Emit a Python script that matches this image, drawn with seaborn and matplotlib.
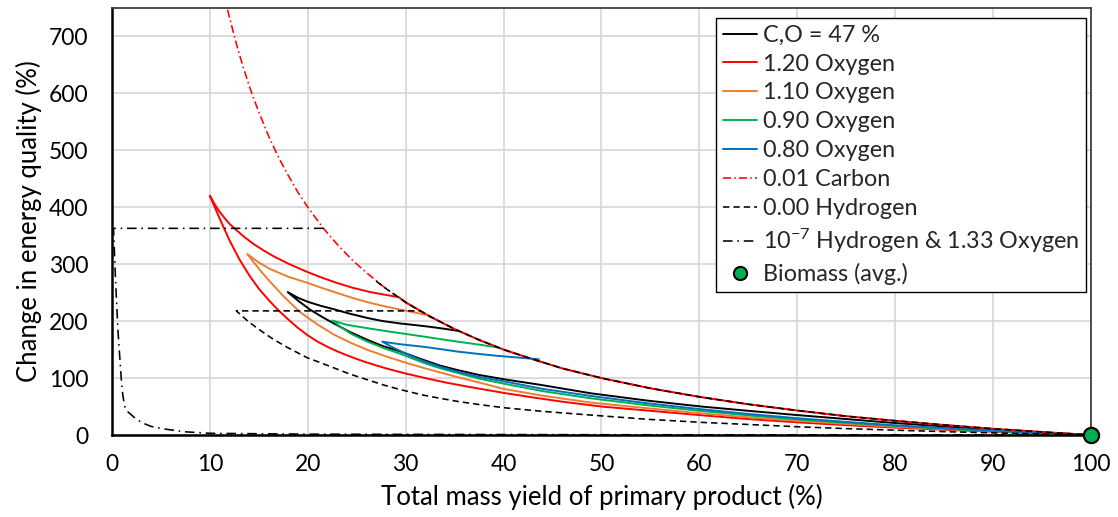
import numpy as np
import matplotlib
matplotlib.use("Agg")
import matplotlib.pyplot as plt
from matplotlib.lines import Line2D
import seaborn as sns

# ---- data -------------------------------------------------------------
# Envelope of maximum energy quality change (0.01 Carbon)
carbon_x = [11.8, 12.2, 12.6, 13.0, 13.5, 14.0, 14.5, 15.0, 16.0, 17.0, 18.0, 19.0, 20.0, 21.5, 23.0, 24.5, 26.0, 28.0, 30.0, 32.5, 35.0, 37.5, 40.0, 43.0, 46.0, 50.0, 55.0, 60.0, 65.0, 70.0, 75.0, 80.0, 85.0, 90.0, 95.0, 100.0]
carbon_y = [747, 720, 694, 669, 641, 614, 590, 567, 525, 488, 456, 426, 400, 365, 335, 308, 285, 257, 233, 208, 186, 167, 150, 133, 117, 100, 82, 67, 54, 43, 33, 25, 17.6, 11, 5.3, 0]

# 1.20 Oxygen (red): lower branch, upper branch, then the envelope tail
red_lower_x = [10.0, 11.0, 12.0, 13.0, 14.0, 15.0, 16.0, 17.0, 18.0, 19.0, 20.0, 21.0, 22.0, 23.0, 24.0, 25.0, 26.0, 28.0, 30.0, 32.0, 34.0, 36.0, 38.0, 40.0, 43.0, 46.0, 50.0, 55.0, 60.0, 65.0, 70.0, 75.0, 80.0, 85.0, 90.0, 95.0, 100.0]
red_lower_y = [420, 380, 342, 309, 281, 257, 237, 219, 203, 188, 175, 164, 155, 147, 140, 133.5, 127.5, 117, 108, 100, 92.5, 86, 80, 74, 66, 58.5, 50, 42.5, 35, 28, 22.3, 17.3, 13, 9.2, 5.8, 2.7, 0]
red_upper_x = [10.0, 10.5, 11.0, 11.5, 12.0, 12.7, 13.5, 14.5, 15.5, 16.5, 18.0, 20.0, 21.5, 23.0, 24.5, 26.4, 28.0, 29.3]
red_upper_y = [420, 405, 392, 381, 371, 360, 348, 335, 324, 314, 301, 286, 276, 267, 259, 251, 246, 242]
red_tail_x = [29.3, 30.0, 32.5, 35.0, 37.5, 40.0, 43.0, 46.0, 50.0, 55.0, 60.0, 65.0, 70.0, 75.0, 80.0, 85.0, 90.0, 95.0, 100.0]
red_tail_y = [242, 233, 208, 186, 167, 150, 133, 117, 100, 82, 67, 54, 43, 33, 25, 17.6, 11, 5.3, 0]

# 1.10 Oxygen (orange)
orange_lower_x = [13.8, 14.5, 15.1, 16.0, 17.5, 19.2, 21.0, 22.7, 24.5, 26.1, 28.0, 30.0, 32.0, 35.0, 38.0, 40.0, 44.0, 48.9, 54.7, 60.2, 65.0, 70.0, 75.0, 80.0, 85.0, 90.0, 95.0, 100.0]
orange_lower_y = [318, 303, 290, 272, 244, 216, 194, 176, 161, 149.5, 138, 127, 117, 103, 90, 81, 69, 57, 47, 38, 31, 25, 19.5, 14.5, 10.3, 6.5, 3.1, 0]
orange_upper_x = [13.8, 15.0, 16.1, 18.0, 20.0, 21.5, 23.0, 24.7, 26.4, 28.0, 29.4, 30.8, 32.1]
orange_upper_y = [318, 303, 292, 278, 267, 258, 249.5, 240, 232, 225.5, 220.5, 215.5, 211]

# C,O = 47 % (black)
black_lower_x = [17.95, 19.0, 20.25, 21.5, 22.65, 24.3, 26.1, 27.7, 29.4, 31.8, 33.5, 35.3, 37.5, 40.0, 43.8, 48.9, 54.7, 60.2, 65.0, 70.0, 75.0, 80.0, 85.0, 90.0, 95.0, 100.0]
black_lower_y = [251, 236, 220, 207, 196, 181, 167, 156, 147, 132, 122, 114, 105.5, 98, 88, 73.3, 60.4, 50, 42.5, 35, 28, 21, 15, 9.5, 4.6, 0]
black_upper_x = [17.95, 19.0, 20.0, 21.3, 22.65, 24.3, 26.1, 27.7, 29.4, 31.0, 32.5, 34.0, 35.3]
black_upper_y = [251, 241, 234, 227, 221, 213, 205.5, 200, 196, 193, 190, 186.5, 183]

# 0.90 Oxygen (green)
green_lower_x = [22.5, 23.5, 24.5, 26.1, 27.7, 29.4, 31.8, 33.5, 35.3, 37.5, 40.0, 44.0, 48.9, 54.7, 60.2, 65.0, 70.0, 75.0, 80.0, 85.0, 90.0, 95.0, 100.0]
green_lower_y = [201, 188, 177, 164, 153, 143, 127, 117.5, 109, 99, 90.3, 77, 64.5, 52.2, 42.2, 34.5, 27.5, 21.5, 16, 11.2, 7, 3.4, 0]
green_upper_x = [22.5, 24.0, 26.1, 28.0, 29.4, 31.8, 33.5, 35.3, 37.4, 39.5]
green_upper_y = [201, 193.5, 187.6, 182.5, 179, 173, 168.5, 164, 159, 153.5]

# 0.80 Oxygen (blue)
blue_lower_x = [27.6, 28.5, 29.4, 30.5, 31.8, 33.5, 35.3, 37.5, 40.0, 44.0, 48.9, 54.7, 60.2, 65.0, 70.0, 75.0, 80.0, 85.0, 90.0, 95.0, 100.0]
blue_lower_y = [164, 155.5, 148, 139, 130, 120, 111, 102, 94.4, 81, 68.6, 55.7, 45.2, 37, 29.5, 23, 17, 12, 7.6, 3.6, 0]
blue_upper_x = [27.6, 29.4, 31.8, 33.5, 35.3, 37.4, 39.4, 41.5, 43.6]
blue_upper_y = [164, 159.5, 155, 151, 146.5, 142.5, 139, 136, 133]

# 0.00 Hydrogen (black dashed): lower curve with its plateau, and the envelope part
hyd_lower_x = [100.0, 95.0, 90.0, 85.0, 80.0, 75.0, 70.0, 65.0, 60.2, 54.7, 48.9, 44.0, 40.0, 37.5, 35.3, 33.5, 31.8, 29.4, 27.7, 26.1, 24.3, 22.65, 21.3, 19.9, 17.9, 16.5, 15.8, 14.8, 13.8, 13.3, 12.7, 31.5]
hyd_lower_y = [0, 1.8, 3.7, 5.9, 8.5, 11.2, 14.5, 18.5, 22.2, 27.6, 35, 41.5, 48, 53.5, 59, 64.5, 70, 80, 88, 97, 107, 118, 127, 136, 154, 168, 176, 188, 201, 209, 218, 218]
hyd_env_x = [27.0, 28.0, 30.0, 32.5, 35.0, 37.5, 40.0, 43.0, 46.0, 50.0, 55.0, 60.0, 65.0, 70.0, 75.0, 80.0, 85.0, 90.0, 95.0, 100.0]
hyd_env_y = [270, 257, 233, 208, 186, 167, 150, 133, 117, 100, 82, 67, 54, 43, 33, 25, 17.6, 11, 5.3, 0]

# 1e-7 Hydrogen & 1.33 Oxygen (black dash-dot)
h7_x = [21.6, 0.15, 0.36, 0.6, 0.95, 1.1, 1.3, 1.6, 2.2, 2.6, 3.2, 4.0, 5.6, 7.3, 10.0, 20.0, 50.0, 100.0]
h7_y = [363, 363, 272, 185, 97, 70, 50, 41, 32, 26.5, 20.6, 15, 10, 5.8, 3, 1.5, 0.5, 0]

# Biomass (average)
biomass_x = [100.0]
biomass_y = [0.0]

# ---- style --------------------------------------------------------------
sns.set_theme(style="white")
plt.rcParams["font.family"] = ["Lato", "DejaVu Sans"]
plt.rcParams["mathtext.fontset"] = "custom"
plt.rcParams["mathtext.rm"] = "Lato"
plt.rcParams["mathtext.it"] = "Lato:italic"

RED = "#FF0000"
ORANGE = "#ED7D31"
GREEN = "#00B050"
BLUE = "#0070C0"
LW = 1.4
DLW = 1.15

fig = plt.figure(figsize=(11.18, 5.17), dpi=100)
ax = fig.add_axes([0.1002, 0.1586, 0.8756, 0.8259])


def loop(lower_x, lower_y, upper_x, upper_y, tail_x=(), tail_y=()):
    xs = list(reversed(lower_x)) + list(upper_x[1:]) + list(tail_x[1:])
    ys = list(reversed(lower_y)) + list(upper_y[1:]) + list(tail_y[1:])
    return xs, ys


def draw(xs, ys, color, dashes=None, lw=LW, z=3):
    sns.lineplot(x=xs, y=ys, sort=False, estimator=None, color=color,
                 linewidth=lw, ax=ax, zorder=z)
    ln = ax.lines[-1]
    ln.set_solid_joinstyle("round")
    if dashes is not None:
        ln.set_dashes(dashes)


draw(*loop(black_lower_x, black_lower_y, black_upper_x, black_upper_y), "black")
draw(*loop(red_lower_x, red_lower_y, red_upper_x, red_upper_y, red_tail_x, red_tail_y), RED)
draw(*loop(orange_lower_x, orange_lower_y, orange_upper_x, orange_upper_y), ORANGE)
draw(*loop(green_lower_x, green_lower_y, green_upper_x, green_upper_y), GREEN)
draw(*loop(blue_lower_x, blue_lower_y, blue_upper_x, blue_upper_y), BLUE)

CARBON_DASH = (5, 2, 1, 2)
HYD_DASH = (4, 2.5)
H7_DASH = (6, 3, 1, 3)
draw(carbon_x, carbon_y, RED, dashes=CARBON_DASH, lw=DLW, z=4)
draw(hyd_lower_x, hyd_lower_y, "black", dashes=HYD_DASH, lw=DLW, z=5)
draw(hyd_env_x, hyd_env_y, "black", dashes=HYD_DASH, lw=DLW, z=5)
draw(h7_x, h7_y, "black", dashes=H7_DASH, lw=DLW, z=5)

sns.scatterplot(x=biomass_x, y=biomass_y, s=120, color=GREEN, edgecolor="black",
                linewidth=1.6, ax=ax, zorder=10, clip_on=False)

# ---- axes ---------------------------------------------------------------
ax.set_xlim(0, 100)
ax.set_ylim(0, 750)
ax.set_xticks(np.arange(0, 101, 10))
ax.set_yticks(np.arange(0, 701, 100))
ax.grid(True, color="#D9D9D9", linewidth=1.3)
ax.set_axisbelow(True)
ax.tick_params(axis="both", length=0, labelsize=16.5, colors="black")
ax.tick_params(axis="y", pad=17)
ax.tick_params(axis="x", pad=14)
for side in ("left", "bottom"):
    ax.spines[side].set_color("black")
    ax.spines[side].set_linewidth(1.8)
for side in ("top", "right"):
    ax.spines[side].set_color("#404040")
    ax.spines[side].set_linewidth(1.3)
    ax.spines[side].set_visible(True)

ax.set_xlabel("Total mass yield of primary product (%)", fontsize=18.5, labelpad=6, color="black")
ax.set_ylabel("Change in energy quality (%)", fontsize=18.5, labelpad=5, color="black")

handles = [
    Line2D([], [], color="black", lw=LW),
    Line2D([], [], color=RED, lw=LW),
    Line2D([], [], color=ORANGE, lw=LW),
    Line2D([], [], color=GREEN, lw=LW),
    Line2D([], [], color=BLUE, lw=LW),
    Line2D([], [], color=RED, lw=DLW, dashes=CARBON_DASH),
    Line2D([], [], color="black", lw=DLW, dashes=HYD_DASH),
    Line2D([], [], color="black", lw=DLW, dashes=H7_DASH),
    Line2D([], [], color=GREEN, marker="o", markersize=9.5, markeredgecolor="black",
           markeredgewidth=1.5, linestyle="none"),
]
labels = ["C,O = 47 %", "1.20 Oxygen", "1.10 Oxygen", "0.90 Oxygen", "0.80 Oxygen",
          "0.01 Carbon", "0.00 Hydrogen", r"$10^{-7}$ Hydrogen & 1.33 Oxygen",
          "Biomass (avg.)"]
leg = ax.legend(handles, labels, loc="upper right", bbox_to_anchor=(0.995, 0.977),
                borderaxespad=0, fontsize=16.8, frameon=True, fancybox=False,
                framealpha=1, edgecolor="black", handlelength=1.45, handletextpad=0.25,
                labelspacing=0.335, borderpad=0.3)
leg.get_frame().set_linewidth(1.0)
leg.set_zorder(20)

fig.savefig("out.png", dpi=100)
